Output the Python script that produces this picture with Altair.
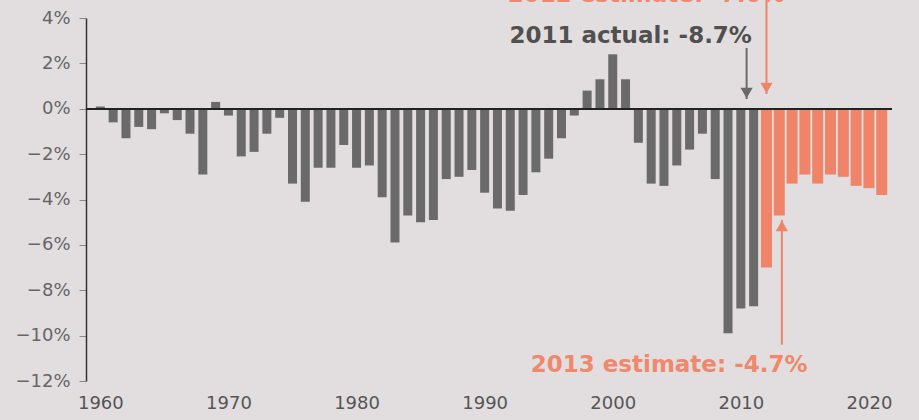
import altair as alt
import pandas as pd

# Federal surplus (+) / deficit (-) as a share of GDP
actual_years = list(range(1960, 2012))
actual_pct = [0.1, -0.6, -1.3, -0.8, -0.9, -0.2, -0.5, -1.1, -2.9, 0.3,
              -0.3, -2.1, -1.9, -1.1, -0.4, -3.3, -4.1, -2.6, -2.6, -1.6,
              -2.6, -2.5, -3.9, -5.9, -4.7, -5.0, -4.9, -3.1, -3.0, -2.7,
              -3.7, -4.4, -4.5, -3.8, -2.8, -2.2, -1.3, -0.3, 0.8, 1.3,
              2.4, 1.3, -1.5, -3.3, -3.4, -2.5, -1.8, -1.1, -3.1, -9.9,
              -8.8, -8.7]
estimate_years = list(range(2012, 2022))
estimate_pct = [-7.0, -4.7, -3.3, -2.9, -3.3, -2.9, -3.0, -3.4, -3.5, -3.8]

x_ticks = [1960, 1970, 1980, 1990, 2000, 2010, 2020]
y_ticks = [4, 2, 0, -2, -4, -6, -8, -10, -12]

# callouts: text, anchor year, anchor value, colour key
note_text = ["2011 actual: -8.7%", "2013 estimate: -4.7%", "2012 estimate: -7.0%"]
note_year = [2001.4, 2004.4, 2002.6]
note_value = [3.2, -11.3, 4.71]
note_kind = ["actual", "estimate", "estimate"]
note_baseline = ["middle", "middle", "alphabetic"]

# arrows: year, tail value, tip value, colour key, direction
arrow_year = [2010.45, 2012.0, 2013.2]
arrow_tail = [2.68, 4.9, -10.4]
arrow_tip = [0.43, 0.65, -4.9]
arrow_kind = ["actual", "estimate", "estimate"]
arrow_dir = ["down", "down", "up"]

GRAY = "#6a6a6a"
RED = "#ef8468"
BG = "#e2dee0"
FONT = "DejaVu Sans"

bars = pd.DataFrame({
    "year": actual_years + estimate_years,
    "pct": actual_pct + estimate_pct,
    "kind": ["actual"] * len(actual_years) + ["estimate"] * len(estimate_years),
})
notes = pd.DataFrame({"text": note_text, "year": note_year, "value": note_value,
                      "kind": note_kind, "baseline": note_baseline})
arrows = pd.DataFrame({"year": arrow_year, "tail": arrow_tail, "tip": arrow_tip,
                       "kind": arrow_kind, "dir": arrow_dir})

x_scale = alt.Scale(domain=[1959.27, 2021.41], nice=False, zero=False)
y_scale = alt.Scale(domain=[-12, 4], nice=False)
col_scale = alt.Scale(domain=["actual", "estimate"], range=[GRAY, RED])

x_axis = alt.Axis(values=x_ticks, format="d", domain=False, ticks=False, grid=False,
                  title=None, labelFont=FONT, labelFontSize=18, labelColor="#555555",
                  labelPadding=13, labelFlush=False)
y_axis = alt.Axis(values=y_ticks, grid=False, title=None,
                  labelExpr="replace(datum.value + '%', '-', '\u2212')",
                  labelFont=FONT, labelFontSize=18, labelColor="#666666",
                  labelPadding=9, tickSize=7, tickColor="#888888",
                  domainColor="#333333", domainWidth=1.5)

base = alt.Chart(bars)
actual_bars = base.transform_filter(alt.datum.kind == "actual").mark_bar(size=9, color=GRAY).encode(
    x=alt.X("year:Q", scale=x_scale, axis=x_axis),
    y=alt.Y("pct:Q", scale=y_scale, axis=y_axis),
)
estimate_bars = base.transform_filter(alt.datum.kind == "estimate").mark_bar(size=11, color=RED).encode(
    x=alt.X("year:Q", scale=x_scale),
    y=alt.Y("pct:Q", scale=y_scale),
)

zero_line = alt.Chart(bars).mark_rule(color="#222222", strokeWidth=1.5).encode(
    y=alt.datum(0)
)

arrow_color = alt.Color("kind:N", scale=col_scale, legend=None)
arrow_shafts = alt.Chart(arrows).mark_rule(strokeWidth=2).encode(
    x=alt.X("year:Q", scale=x_scale),
    y=alt.Y("tail:Q", scale=y_scale),
    y2="tip:Q",
    color=arrow_color,
)
heads_down = alt.Chart(arrows).transform_filter(alt.datum.dir == "down").mark_point(
    shape="triangle-down", filled=True, size=150, yOffset=-6, opacity=1
).encode(
    x=alt.X("year:Q", scale=x_scale),
    y=alt.Y("tip:Q", scale=y_scale),
    color=arrow_color,
)
heads_up = alt.Chart(arrows).transform_filter(alt.datum.dir == "up").mark_point(
    shape="triangle-up", filled=True, size=150, yOffset=6, opacity=1
).encode(
    x=alt.X("year:Q", scale=x_scale),
    y=alt.Y("tip:Q", scale=y_scale),
    color=arrow_color,
)

text_color = alt.Color("kind:N", scale=alt.Scale(domain=["actual", "estimate"],
                                                  range=["#505050", "#f0886c"]), legend=None)
note_mid = alt.Chart(notes).transform_filter(alt.datum.baseline == "middle").mark_text(
    font=FONT, fontSize=23, fontWeight="bold", align="center", baseline="middle"
).encode(
    x=alt.X("year:Q", scale=x_scale),
    y=alt.Y("value:Q", scale=y_scale),
    text="text:N",
    color=text_color,
)
note_top = alt.Chart(notes).transform_filter(alt.datum.baseline == "alphabetic").mark_text(
    font=FONT, fontSize=23, fontWeight="bold", align="center", baseline="alphabetic"
).encode(
    x=alt.X("year:Q", scale=x_scale),
    y=alt.Y("value:Q", scale=y_scale),
    text="text:N",
    color=text_color,
)

chart = alt.layer(
    actual_bars, estimate_bars, zero_line, arrow_shafts, heads_down, heads_up, note_mid, note_top
).resolve_scale(color="independent").properties(
    width=806,
    height=363,
    autosize=alt.AutoSizeParams(type="none"),
    padding={"left": 86, "top": 18, "right": 27, "bottom": 39},
    background=BG,
).configure_view(stroke=None)

chart.save("out.html", embed_options={"renderer": "svg", "actions": False})
